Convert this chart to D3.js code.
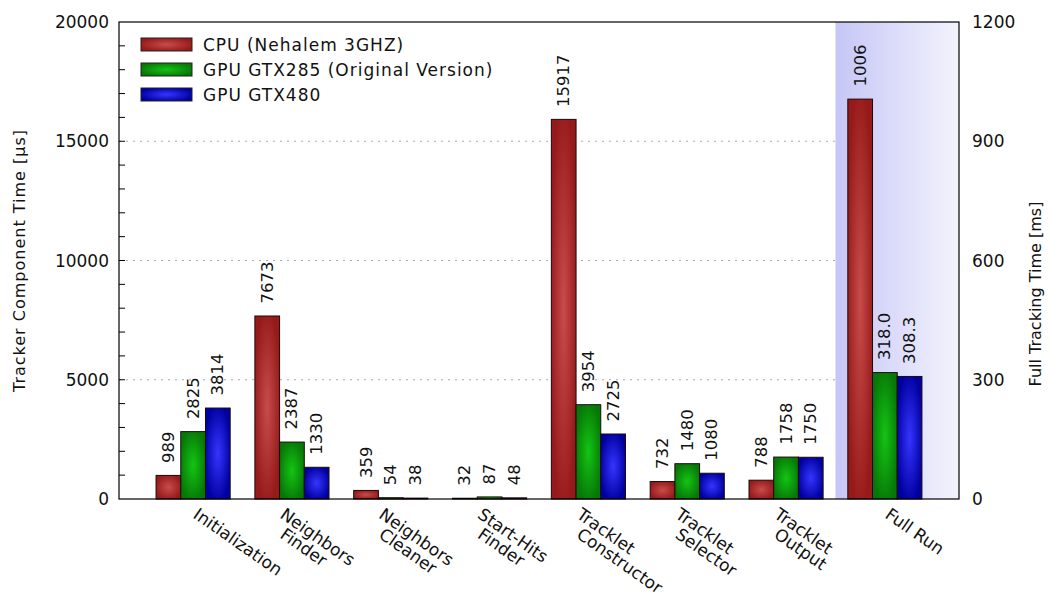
<!DOCTYPE html>
<html>
<head>
<meta charset="utf-8">
<script src="https://cdn.jsdelivr.net/npm/d3@7"></script>
<style>
  body { margin: 0; background: #fff; }
  svg { display: block; font-family: "DejaVu Sans", sans-serif; }
</style>
</head>
<body>
<svg id="chart" width="1050" height="600"></svg>
<script>
// Tracker components (the last group, "Full Run", is read against the right axis in ms)
const categories = [
  "Initialization",
  "Neighbors\nFinder",
  "Neighbors\nCleaner",
  "Start-Hits\nFinder",
  "Tracklet\nConstructor",
  "Tracklet\nSelector",
  "Tracklet\nOutput",
  "Full Run"
];
const seriesNames = ["CPU (Nehalem 3GHZ)", "GPU GTX285 (Original Version)", "GPU GTX480"];
const cpuTimes    = [989, 7673, 359, 32, 15917, 732, 788, 1006];
const gtx285Times = [2825, 2387, 54, 87, 3954, 1480, 1758, 318.0];
const gtx480Times = [3814, 1330, 38, 48, 2725, 1080, 1750, 308.3];
const leftTicks  = [0, 5000, 10000, 15000, 20000];
const rightTicks = [0, 300, 600, 900, 1200];
const leftTitle  = "Tracker Component Time [µs]";
const rightTitle = "Full Tracking Time [ms]";

const series = [cpuTimes, gtx285Times, gtx480Times];
const fullRunIndex = categories.length - 1;

const svg = d3.select("#chart");
const plot = { left: 119, right: 959, top: 22, bottom: 499 };

const x = d3.scaleLinear().domain([-0.75, categories.length - 0.25]).range([plot.left, plot.right]);
const yL = d3.scaleLinear().domain([0, 20000]).range([plot.bottom, plot.top]);
const yR = d3.scaleLinear().domain([0, 1200]).range([plot.bottom, plot.top]);
const barW = 0.25;

// gradients: radial shading on bars, horizontal fade on the full-run panel
const defs = svg.append("defs");
const palette = [
  { id: "g-cpu", edge: "#961a1a", mid: "#c94c4c" },
  { id: "g-285", edge: "#077807", mid: "#14c414" },
  { id: "g-480", edge: "#0000a0", mid: "#3535ff" }
];
palette.forEach(p => {
  const g = defs.append("radialGradient").attr("id", p.id)
    .attr("cx", "50%").attr("cy", "50%").attr("r", "55%");
  g.append("stop").attr("offset", "0%").attr("stop-color", p.mid);
  g.append("stop").attr("offset", "100%").attr("stop-color", p.edge);
});
const shade = defs.append("linearGradient").attr("id", "g-shade")
  .attr("x1", "0%").attr("x2", "100%").attr("y1", "0%").attr("y2", "0%");
shade.append("stop").attr("offset", "0%").attr("stop-color", "#c6c6f7");
shade.append("stop").attr("offset", "100%").attr("stop-color", "#f3f3fd");

// dotted grid at the major ticks
svg.append("g").selectAll("line")
  .data(leftTicks.filter(t => t > 0 && t < 20000))
  .join("line")
  .attr("x1", plot.left).attr("x2", plot.right)
  .attr("y1", d => yL(d)).attr("y2", d => yL(d))
  .attr("stroke", "#a8a8a8").attr("stroke-width", 1)
  .attr("stroke-dasharray", "2,5");

// shaded panel behind the full-run group
svg.append("rect")
  .attr("x", x(fullRunIndex - 0.5)).attr("y", plot.top)
  .attr("width", x(categories.length - 0.25) - x(fullRunIndex - 0.5))
  .attr("height", plot.bottom - plot.top)
  .attr("fill", "url(#g-shade)");

// bars
const barData = [];
categories.forEach((c, gi) => {
  series.forEach((s, si) => {
    barData.push({ gi, si, v: s[gi], y: gi === fullRunIndex ? yR : yL });
  });
});
const fmtInt = d3.format("d");
const fmtRun = d3.format(".4r");

svg.append("g").selectAll("rect")
  .data(barData)
  .join("rect")
  .attr("x", d => x(d.gi + (d.si - 1.5) * barW))
  .attr("width", x(barW) - x(0))
  .attr("y", d => d.y(d.v))
  .attr("height", d => Math.max(0.5, plot.bottom - d.y(d.v)))
  .attr("fill", d => `url(#${palette[d.si].id})`)
  .attr("stroke", "#1a0a0a").attr("stroke-width", 1);

// value labels, written vertically above each bar
svg.append("g").selectAll("text")
  .data(barData)
  .join("text")
  .attr("transform", d => `translate(${x(d.gi + (d.si - 1) * barW)},${d.y(d.v) - 12.5}) rotate(-90)`)
  .attr("dominant-baseline", "central")
  .attr("font-size", 16.5)
  .attr("fill", "#111")
  .text(d => d.gi === fullRunIndex ? fmtRun(d.v) : fmtInt(d.v));

// plot frame
svg.append("rect")
  .attr("x", plot.left).attr("y", plot.top)
  .attr("width", plot.right - plot.left).attr("height", plot.bottom - plot.top)
  .attr("fill", "none").attr("stroke", "#000").attr("stroke-width", 1.2);

// left axis: ticks every 1000 pointing inward, labels every 5000
svg.append("g").selectAll("line")
  .data(d3.range(1000, 20000, 1000))
  .join("line")
  .attr("x1", plot.left).attr("x2", plot.left + 6)
  .attr("y1", d => yL(d)).attr("y2", d => yL(d))
  .attr("stroke", "#000").attr("stroke-width", 1);

svg.append("g").selectAll("text")
  .data(leftTicks)
  .join("text")
  .attr("x", plot.left - 10).attr("y", d => yL(d))
  .attr("text-anchor", "end").attr("dominant-baseline", "central")
  .attr("font-size", 17).attr("fill", "#111")
  .text(d => d);

// right axis labels
svg.append("g").selectAll("text")
  .data(rightTicks)
  .join("text")
  .attr("x", plot.right + 13).attr("y", d => yR(d))
  .attr("dominant-baseline", "central")
  .attr("font-size", 17).attr("fill", "#111")
  .text(d => d);

// axis titles
svg.append("text")
  .attr("transform", `translate(25,${(plot.top + plot.bottom) / 2}) rotate(-90)`)
  .attr("text-anchor", "middle")
  .attr("font-size", 16).attr("letter-spacing", 1).attr("fill", "#111")
  .text(leftTitle);
svg.append("text")
  .attr("transform", `translate(1041,294) rotate(-90)`)
  .attr("text-anchor", "middle")
  .attr("font-size", 16).attr("fill", "#111")
  .text(rightTitle);

// slanted category labels
const xl = svg.append("g");
categories.forEach((c, gi) => {
  const lines = c.split("\n");
  const x0 = x(gi) + (lines.length === 1 ? -1 : -13);
  lines.forEach((ln, li) => {
    xl.append("text")
      .attr("transform", `translate(${x0},${517 + li * 20}) rotate(35)`)
      .attr("font-size", 17).attr("fill", "#111")
      .text(ln);
  });
});

// legend
const lg = svg.append("g").attr("transform", "translate(141,38)");
seriesNames.forEach((name, i) => {
  const row = lg.append("g").attr("transform", `translate(0,${i * 25})`);
  row.append("rect")
    .attr("width", 51).attr("height", 13)
    .attr("fill", `url(#${palette[i].id})`)
    .attr("stroke", "#222").attr("stroke-width", 1);
  row.append("text")
    .attr("x", 62).attr("y", 6.5)
    .attr("dominant-baseline", "central")
    .attr("font-size", 17).attr("letter-spacing", 1).attr("fill", "#111")
    .text(name);
});
</script>
</body>
</html>
